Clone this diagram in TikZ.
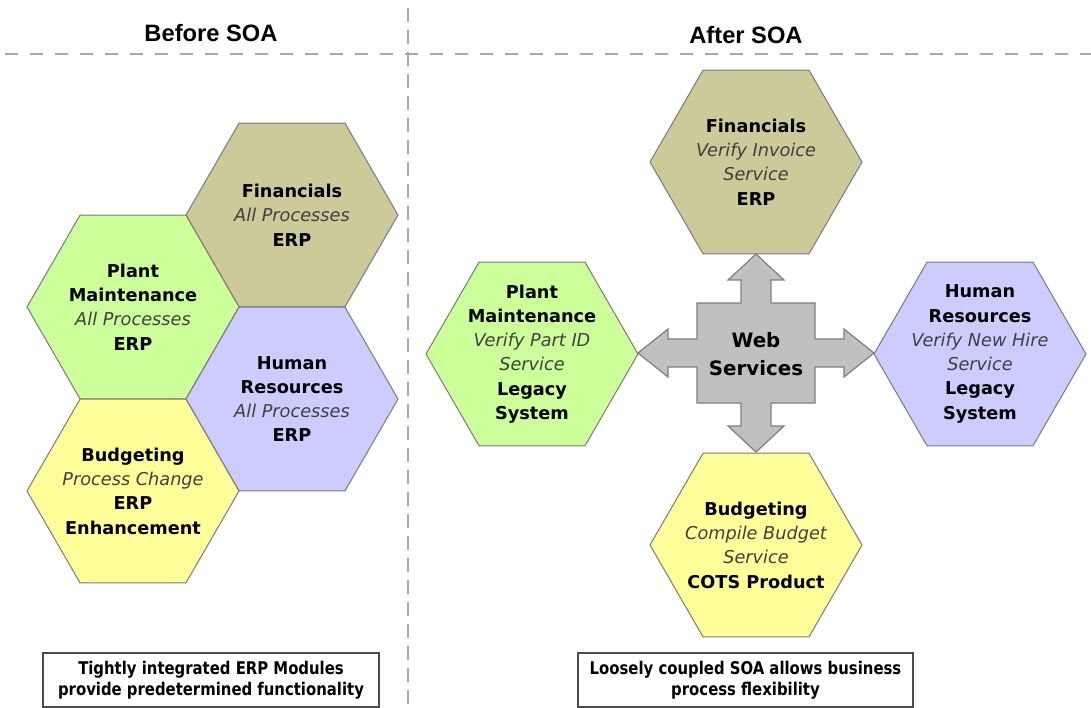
\documentclass[tikz,border=0pt]{standalone}
\usepackage{fontspec}
\setmainfont{DejaVu Sans}[ItalicFont={DejaVu Sans Oblique},BoldFont={DejaVu Sans Bold},BoldItalicFont={DejaVu Sans Bold Oblique}]
\newfontfamily\hdrfont{Liberation Sans}
\newfontfamily\condfont{DejaVu Sans Bold}[FakeStretch=0.85]
\usetikzlibrary{shapes.geometric,shadows}
\definecolor{finc}{HTML}{CCCA99}
\definecolor{plantc}{HTML}{CCFF99}
\definecolor{hrc}{HTML}{CCCCFF}
\definecolor{budc}{HTML}{FFFF99}
\definecolor{crossc}{HTML}{C0C0C0}
\definecolor{crossd}{HTML}{808080}
\definecolor{hexd}{HTML}{7A7A7A}
\definecolor{itc}{HTML}{404040}
\definecolor{sepc}{HTML}{A8A8A8}
\newcommand{\hexit}[1]{{\mdseries\itshape\color{itc}#1}}
\tikzset{
  hexbox/.style={regular polygon, regular polygon sides=6, minimum size=212pt, inner sep=0pt, draw=hexd, line width=1pt},
  hextext/.style={align=center, inner sep=0pt, font=\fontsize{17.7}{24.3}\selectfont\bfseries},
  sepline/.style={draw=sepc, line width=1.8pt},
  hdr/.style={anchor=base, inner sep=0pt, font=\hdrfont\bfseries\fontsize{23.7}{28}\selectfont},
  notebox/.style={draw=black!70, line width=1.2pt, fill=white, minimum height=54pt, inner sep=0pt, align=center,
    font=\condfont\fontsize{17.5}{20.5}\selectfont, drop shadow={shadow xshift=0.5pt, shadow yshift=-1.5pt, fill=gray!80, opacity=1}},
  crossshape/.style={fill=crossc, draw=crossd, line width=1.2pt, line join=miter},
  wstext/.style={align=center, inner sep=0pt, font=\fontsize{19.8}{28}\selectfont\bfseries}
}
\begin{document}
\begin{tikzpicture}[x=1pt,y=-1pt]
\useasboundingbox (0,0) rectangle (1091,708);
\fill[white] (0,0) rectangle (1091,708);
% separators
\coordinate (hA) at (5,54);
\coordinate (hB) at (1091,54);
\coordinate (vA) at (408,8);
\coordinate (vB) at (408,708);
\draw[sepline, dash pattern=on 13pt off 12pt] (hA) -- (hB);
\draw[sepline, dash pattern=on 14pt off 8pt] (vA) -- (vB);
% headers
\node[hdr] (before) at (211,42) {Before SOA};
\node[hdr] (after) at (746,44) {After SOA};
% left hexagons
\node[hexbox, fill=finc] (finL) at (292,215) {};
\node[hexbox, fill=plantc] (plantL) at (133,307) {};
\node[hexbox, fill=hrc] (hrL) at (292,399) {};
\node[hexbox, fill=budc] (budL) at (133,491) {};
\node[hextext] (finLt) at (finL.center) {Financials\\\hexit{All Processes}\\ERP};
\node[hextext] (plantLt) at (plantL.center) {Plant\\Maintenance\\\hexit{All Processes}\\ERP};
\node[hextext] (hrLt) at (hrL.center) {Human\\Resources\\\hexit{All Processes}\\ERP};
\node[hextext] (budLt) at (budL.center) {Budgeting\\\hexit{Process Change}\\ERP\\Enhancement};
% right hexagons
\node[hexbox, fill=finc] (finR) at (756,162) {};
\node[hexbox, fill=plantc] (plantR) at (532,354) {};
\node[hexbox, fill=hrc] (hrR) at (980,354) {};
\node[hexbox, fill=budc] (budR) at (756,545) {};
\node[hextext] (finRt) at (finR.center) {Financials\\\hexit{Verify Invoice}\\\hexit{Service}\\ERP};
\node[hextext] (plantRt) at (plantR.center) {Plant\\Maintenance\\\hexit{Verify Part ID}\\\hexit{Service}\\Legacy\\System};
\node[hextext] (hrRt) at (hrR.center) {Human\\Resources\\\hexit{Verify New Hire}\\\hexit{Service}\\Legacy\\System};
\node[hextext] (budRt) at (budR.center) {Budgeting\\\hexit{Compile Budget}\\\hexit{Service}\\COTS Product};
% web services cross
\draw[crossshape, shift={(756,353)}]
  (0,-99) -- (28,-73) -- (15,-73) -- (15,-50) -- (59,-50) -- (59,-14) -- (88,-14) -- (88,-24) -- (118,0)
  -- (88,24) -- (88,14) -- (59,14) -- (59,50) -- (15,50) -- (15,73) -- (28,73) -- (0,99)
  -- (-28,73) -- (-15,73) -- (-15,50) -- (-59,50) -- (-59,14) -- (-88,14) -- (-88,24) -- (-118,0)
  -- (-88,-24) -- (-88,-14) -- (-59,-14) -- (-59,-50) -- (-15,-50) -- (-15,-73) -- (-28,-73) -- cycle;
\node[wstext] (ws) at (756,354) {Web\\Services};
% notes
\node[notebox, minimum width=336pt] (noteL) at (211,680) {Tightly integrated ERP Modules\\provide predetermined functionality};
\node[notebox, minimum width=335pt] (noteR) at (745.5,680) {Loosely coupled SOA allows business\\process flexibility};
\end{tikzpicture}
\end{document}
